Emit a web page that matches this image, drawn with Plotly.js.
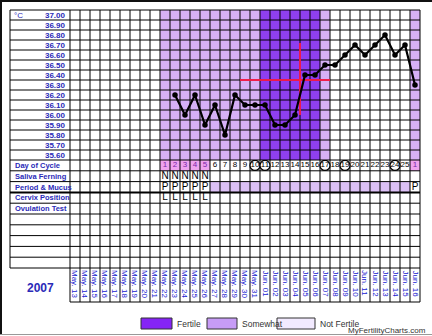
<!DOCTYPE html>
<html>
<head>
<meta charset="utf-8">
<script src="https://cdn.plot.ly/plotly-3.0.1.min.js"></script>
<style>html,body{margin:0;padding:0;background:#fff;}#chart{width:432px;height:336px;}</style>
</head>
<body>
<div id="chart"></div>
<script>
// ---------- DATA ----------
const dates = ['May. 13','May. 14','May. 15','May. 16','May. 17','May. 18','May. 19','May. 20','May. 21','May. 22','May. 23','May. 24','May. 25','May. 26','May. 27','May. 28','May. 29','May. 30','May. 31','Jun. 01','Jun. 02','Jun. 03','Jun. 04','Jun. 05','Jun. 06','Jun. 07','Jun. 08','Jun. 09','Jun. 10','Jun. 11','Jun. 12','Jun. 13','Jun. 14','Jun. 15','Jun. 16'];
const cycleStartDate = 'May. 22';
const cycleDays = [1,2,3,4,5,6,7,8,9,10,11,12,13,14,15,16,17,18,19,20,21,22,23,24,25,1];
const temps = [null,36.20,36.00,36.20,35.90,36.10,35.80,36.20,36.10,36.10,36.10,35.90,35.90,36.00,36.40,36.40,36.50,36.50,36.60,36.70,36.60,36.70,36.80,36.60,36.70,36.30];
const fertility = ['S','S','S','S','S','S','S','S','S','S','F','F','F','F','F','F','S','N','N','N','N','N','N','N','N','S'];
const periodDays = [true,true,true,true,true,false,false,false,false,false,false,false,false,false,false,false,false,false,false,false,false,false,false,false,false,true];
const salivaFerning = ['N','N','N','N','N','','','','','','','','','','','','','','','','','','','','',''];
const periodMucus  = ['P','P','P','P','P','','','','','','','','','','','','','','','','','','','','','P'];
const mucusBand    = [false,false,false,false,false,true,true,true,true,true,true,true,true,true,true,true,true,true,true,true,true,true,true,true,true,false];
const cervixPos    = ['L','L','L','L','L','','','','','','','','','','','','','','','','','','','','',''];
const circledDays  = [10,11,17,19,24];
const tempTicks = [35.60,35.70,35.80,35.90,36.00,36.10,36.20,36.30,36.40,36.50,36.60,36.70,36.80,36.90,37.00];
const rowLabels = ['Day of Cycle','Saliva Ferning','Period & Mucus','Cervix Position','Ovulation Test','','','','',''];
const coverTemp = 36.35;
const coverDays = [9,17];
const ovulationDay = 15;
const ovulationTemps = [36.00,36.72];
const year = '2007';
const legendItems = ['Fertile','Somewhat','Not Fertile'];

// ---------- STYLE ----------
const W = 432, H = 336;
const BLUE = '#2a2ab8';
const FONT = 'Liberation Sans, Arial, sans-serif';
const fertColors = {F:'#8e3ff0', S:'#d6b0f6', N:'#ffffff'};
const legendColors = ['#8524f5','#c79cf7','#f2eaff'];
const G = {left:10, gridLeft:70, gridRight:420, top:10, tempBottom:160, tableBottom:268, dateBottom:302};
const px = v => v / W;
const py = v => 1 - v / H;

const start = dates.indexOf(cycleStartDate);
const xs = cycleDays.map((d, i) => start + i);
const tempMin = tempTicks[0] - 0.05, tempMax = tempTicks[tempTicks.length - 1] + 0.05;
const nRows = rowLabels.length;
const rowH = (G.tableBottom - G.tempBottom) / nRows;
const rowTop = r => py(G.tempBottom + r * rowH);

const shapes = [];
// fertility background (x through the axis, drawn under grid and traces)
xs.forEach((x, i) => {
  if (fertility[i] === 'N') return;
  shapes.push({type:'rect', layer:'below', xref:'x', yref:'paper', x0:x - 0.5, x1:x + 0.5,
    y0:py(G.tempBottom), y1:py(G.top), fillcolor:fertColors[fertility[i]], line:{width:0}});
});
// period highlight in day row and mucus band
xs.forEach((x, i) => {
  if (periodDays[i]) shapes.push({type:'rect', layer:'below', xref:'x', yref:'paper', x0:x - 0.5, x1:x + 0.5,
    y0:rowTop(1), y1:rowTop(0), fillcolor:'#efa3ef', line:{width:0}});
  if (mucusBand[i]) shapes.push({type:'rect', layer:'below', xref:'x', yref:'paper', x0:x - 0.5, x1:x + 0.5,
    y0:rowTop(3), y1:rowTop(2), fillcolor:'#dcc0f6', line:{width:0}});
});

const traces = [];
// circled days
const circX = circledDays.map(d => start + cycleDays.indexOf(d));
traces.push({type:'scatter', mode:'markers', x: circX, y: circX.map(() => 0.5), xaxis:'x', yaxis:'y2',
  marker:{symbol:'circle', size:10, color:'#ffffff', line:{color:'#000', width:1.3}}, hoverinfo:'skip'});
// day numbers
traces.push({type:'scatter', mode:'text', x: xs, y: xs.map(() => 0.5), text: cycleDays.map(String), xaxis:'x', yaxis:'y2',
  textposition:'middle center', textfont:{family:FONT, size:8, color: periodDays.map(p => p ? '#7a1fa8' : '#000')}, hoverinfo:'skip'});
// letters
[[salivaFerning,1],[periodMucus,2],[cervixPos,3]].forEach(([arr,row]) => {
  traces.push({type:'scatter', mode:'text', x: xs, y: xs.map(() => row + 0.5), text: arr, xaxis:'x', yaxis:'y2',
    textposition:'middle center', textfont:{family:FONT, size:10, color:'#000'}, hoverinfo:'skip'});
});
// cover line and ovulation line
const cx0 = start + cycleDays.indexOf(coverDays[0]) - 0.5;
const cx1 = start + cycleDays.indexOf(coverDays[1]) + 0.5;
traces.push({type:'scatter', mode:'lines', x:[cx0, cx1], y:[coverTemp, coverTemp], xaxis:'x', yaxis:'y',
  line:{color:'rgba(255,25,70,0.9)', width:2}, hoverinfo:'skip'});
const ox = start + cycleDays.indexOf(ovulationDay) - 0.5;
traces.push({type:'scatter', mode:'lines', x:[ox, ox], y: ovulationTemps, xaxis:'x', yaxis:'y',
  line:{color:'rgba(255,25,70,0.9)', width:2}, hoverinfo:'skip'});
// temperatures
traces.push({type:'scatter', mode:'lines+markers', x: xs, y: temps, xaxis:'x', yaxis:'y', connectgaps:false,
  line:{color:'#000', width:2.2}, marker:{color:'#000', size:5.5}, hoverinfo:'skip'});

// ---------- GRID SHAPES (below traces) ----------
const grid = (x0, x1, y0, y1, w, c) => shapes.push({type:'line', layer:'below', xref:'paper', yref:'paper',
  x0:x0, x1:x1, y0:y0, y1:y1, line:{color:c || '#000', width:w || 1}});
const colW = (G.gridRight - G.gridLeft) / dates.length;
for (let k = 0; k <= dates.length; k++) {
  const x = px(G.gridLeft + k * colW);
  grid(x, x, py(G.dateBottom), py(G.top));
}
grid(px(G.left), px(G.left), py(G.tableBottom), py(G.top));
const tempRowH = (G.tempBottom - G.top) / tempTicks.length;
for (let k = 0; k <= tempTicks.length; k++) {
  const y = py(G.top + k * tempRowH);
  grid(px(G.left), px(G.gridRight), y, y);
}
for (let r = 1; r <= nRows; r++) {
  const y = rowTop(r);
  grid(px(G.left), px(G.gridRight), y, y, r === 3 ? 2 : 1);
}
grid(px(G.gridLeft), px(G.gridRight), py(G.dateBottom), py(G.dateBottom));
// frame
grid(0, 1, py(1), py(1), 2, '#111');
grid(px(1), px(1), py(334), 1, 2, '#111');
grid(0, 1, py(334.5), py(334.5), 1, '#999');

// legend
const legendBoxes = [[141,172],[207,237],[277,315]];
const annotations = [];
legendItems.forEach((name, i) => {
  const [a, b] = legendBoxes[i];
  shapes.push({type:'rect', layer:'above', xref:'paper', yref:'paper', x0:px(a), x1:px(b), y0:py(329), y1:py(318),
    fillcolor: legendColors[i], line:{color:'#333', width:1}});
  annotations.push({xref:'paper', yref:'paper', x:px(b + 3), y:py(323.5), text:name, showarrow:false,
    xanchor:'left', yanchor:'middle', font:{family:FONT, size:8.5, color:'#333'}});
});
// date labels, rotated, under each column
dates.forEach((d, i) => {
  annotations.push({xref:'x', yref:'paper', x:i, y:py(G.tableBottom + 1), text:d, textangle:90, showarrow:false,
    xanchor:'center', yanchor:'top', borderpad:0, font:{family:FONT, size:8, color:'#2020d0'}});
});
rowLabels.forEach((t, i) => {
  if (!t) return;
  annotations.push({xref:'paper', yref:'y2', x:px(13), y:i + 0.5, text:t, showarrow:false,
    xanchor:'left', yanchor:'middle', font:{family:FONT, size:7.5, color:BLUE, weight:'bold'}});
});
annotations.push({xref:'paper', yref:'y', x:px(12), y:tempTicks[tempTicks.length-1], text:'°C', showarrow:false,
  xanchor:'left', yanchor:'middle', font:{family:FONT, size:8, color:BLUE}});
annotations.push({xref:'paper', yref:'paper', x:px(40), y:py(288), text:year, showarrow:false,
  xanchor:'center', yanchor:'middle', font:{family:FONT, size:12, color:BLUE, weight:'bold'}});
annotations.push({xref:'paper', yref:'paper', x:px(428), y:py(330), text:'MyFertilityCharts.com', showarrow:false,
  xanchor:'right', yanchor:'middle', font:{family:FONT, size:8, color:'#333'}});

const layout = {
  width: W, height: H, margin:{l:0, r:0, t:0, b:0}, paper_bgcolor:'#fff', plot_bgcolor:'rgba(0,0,0,0)',
  showlegend:false,
  xaxis:{type:'linear', domain:[px(G.gridLeft), px(G.gridRight)], range:[-0.5, dates.length - 0.5], anchor:'y2',
    showticklabels:false, ticks:'', showgrid:false, zeroline:false, showline:false, fixedrange:true},
  yaxis:{domain:[py(G.tempBottom), py(G.top)], range:[tempMin, tempMax], anchor:'x',
    tickvals: tempTicks, ticktext: tempTicks.map(t => t.toFixed(2)), ticks:'', showgrid:false, zeroline:false, showline:false,
    ticklabelstandoff:4, tickfont:{family:FONT, size:8, color:BLUE, weight:'bold'}, fixedrange:true},
  yaxis2:{domain:[py(G.tableBottom), py(G.tempBottom)], range:[nRows, 0], anchor:'x', showticklabels:false,
    ticks:'', showgrid:false, zeroline:false, showline:false, fixedrange:true},
  shapes: shapes, annotations: annotations
};
Plotly.newPlot('chart', traces, layout, {displayModeBar:false, staticPlot:true});
</script>
</body>
</html>
